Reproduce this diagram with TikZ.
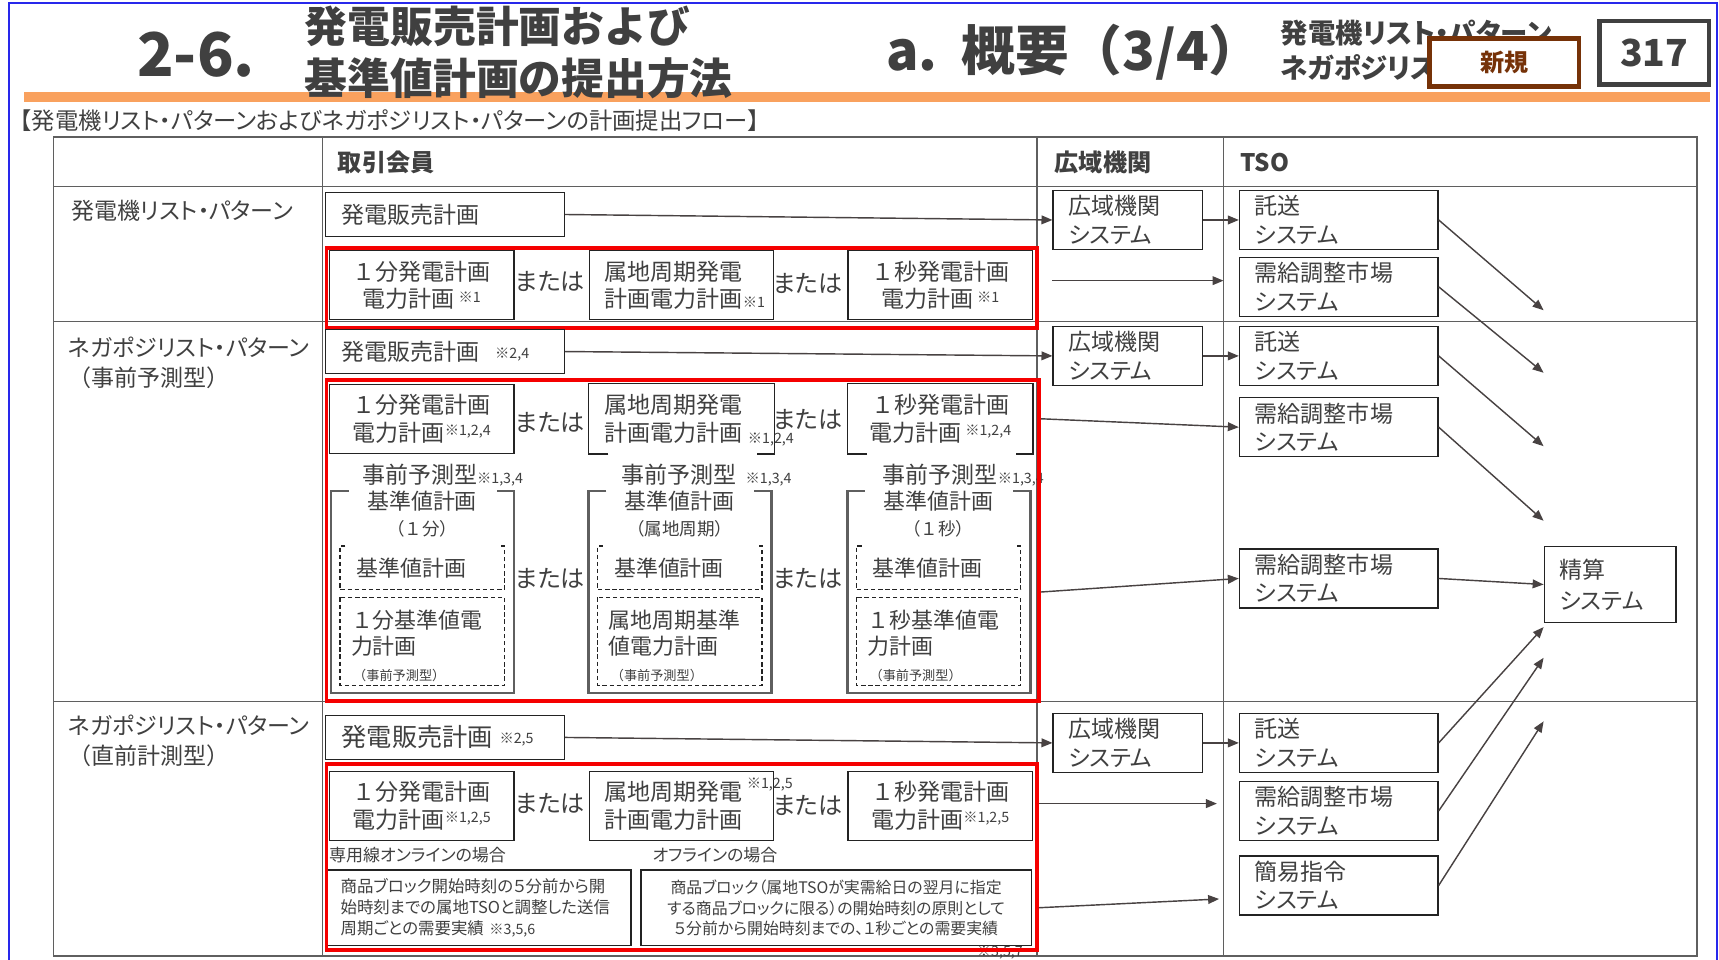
\documentclass[tikz,border=0pt]{standalone}
\usepackage{fontspec}
\setmainfont{Noto Sans CJK JP}[RawFeature=+palt]
\newfontfamily\fw{Noto Sans CJK JP}
\usetikzlibrary{arrows.meta}

\definecolor{txt}{RGB}{64,64,64}
\definecolor{boxline}{RGB}{35,35,35}
\definecolor{grid}{RGB}{95,95,95}
\definecolor{arrowc}{RGB}{72,66,66}
\definecolor{barorange}{RGB}{249,161,94}
\definecolor{frameblue}{RGB}{40,40,235}
\definecolor{newbrown}{RGB}{118,50,8}
\definecolor{redline}{RGB}{245,0,0}
\newcommand{\fsz}[2]{\fontsize{#1}{#2}\selectfont}
\newcommand{\fnote}[1]{{\fsz{13}{13}#1}}
\newcommand{\upnote}[1]{\raisebox{5pt}{\fsz{13}{13}#1}}

\tikzset{
  sys/.style={draw=boxline, line width=1.3pt, anchor=north west, align=left,
    inner xsep=14pt, inner ysep=0pt, text width=108pt, minimum height=54pt,
    text=txt, font=\fsz{21}{26}},
  sale/.style={draw=boxline, line width=1.3pt, anchor=north west, align=left,
    inner xsep=15pt, inner ysep=0pt, text width=188pt, minimum height=40pt,
    text=txt, font=\fsz{21}{26}},
  plan/.style={draw=boxline, line width=1.3pt, anchor=north west, align=center,
    inner xsep=4pt, inner ysep=0pt, text width=160pt, minimum height=63pt,
    text=txt, font=\fw\fsz{21}{25}},
  planl/.style={plan, align=left, inner xsep=14pt, text width=140pt},
  boxpen/.style={draw=boxline, line width=1.3pt},
  orword/.style={text=txt, font=\fsz{22}{22}, inner sep=0pt},
  smalltext/.style={anchor=west, text=txt, font=\fsz{21}{21}, inner sep=0pt},
  rowtext/.style={anchor=west, align=left, text=txt, font=\fsz{21}{27}, inner sep=0pt},
  headtext/.style={anchor=west, text=txt, font=\bfseries\fsz{22}{22}, inner sep=0pt},
  redframe/.style={draw=redline, line width=3.6pt, anchor=north west, inner sep=0pt},
  bracketpen/.style={draw=grid, line width=2.4pt},
  dashpen/.style={draw=boxline, line width=1.2pt, dash pattern=on 4pt off 2.5pt},
  gridpen/.style={draw=grid, line width=1.3pt},
  arr/.style={draw=arrowc, line width=1.3pt, -{Triangle[length=10pt,width=8pt]}},
}

\begin{document}
\begin{tikzpicture}[x=1pt, y=-1pt]
\useasboundingbox (0,0) rectangle (1568,875);
\fill[white] (0,0) rectangle (1568,875);
\draw[frameblue, line width=1.5pt] (8,3) rectangle (1566,890);

% title
\fill[barorange] (22,84) rectangle (1560,93);
\node[anchor=west, text=txt, font=\bfseries\fsz{55}{55}, inner sep=0pt] (num) at (125,50) {2-6.};
\node[anchor=west, text=txt, font=\fw\bfseries\fsz{39}{48}, align=left, inner sep=0pt] (ttl) at (278,48) {発電販売計画および\\基準値計画の提出方法};
\node[anchor=west, text=txt, font=\fw\bfseries\fsz{49}{49}, inner sep=0pt] (part) at (808,48) {a.\hspace{22pt}概要（3/4）};
\node[anchor=west, text=txt, font=\bfseries\fsz{25}{32}, align=left, inner sep=0pt] (kind) at (1168,46) {発電機リスト・パターン\\ネガポジリスト・パターン};
\node[draw=newbrown, line width=4pt, fill=white, minimum width=136pt, minimum height=44pt, text=newbrown, font=\bfseries\fsz{22}{22}] (new) at (1372,57) {新規};
\node[draw=txt, line width=4pt, minimum width=100pt, minimum height=58pt, text=txt, font=\bfseries\fsz{34}{34}] (page) at (1509,48) {317};
\node[anchor=west, text=txt, font=\fsz{21.3}{21.3}, inner sep=0pt] (flow) at (18,110) {【発電機リスト・パターンおよびネガポジリスト・パターンの計画提出フロー】};

% table
\draw[gridpen] (49,125) rectangle (1548,872);
\draw[gridpen] (49,170) -- (1548,170) (49,293) -- (1548,293) (49,640) -- (1548,640);
\draw[gridpen] (294,125) -- (294,872) (946,125) -- (946,872) (1116,125) -- (1116,872);
\node[headtext] (hmember) at (308,148) {取引会員};
\node[headtext] (hocc) at (962,148) {広域機関};
\node[headtext] (htso) at (1131,148) {TSO};
\node[rowtext] (lab1) at (65,192) {発電機リスト・パターン};
\node[rowtext] (lab2) at (62,331) {ネガポジリスト・パターン\\{\fw （事前予測型）}};
\node[rowtext] (lab3) at (62,676) {ネガポジリスト・パターン\\{\fw （直前計測型）}};

% row 1
\node[sale] (sale1) at (296,175) {発電販売計画};
\node[plan] (p1a) at (300,228) {１分発電計画\\電力計画\,\upnote{※1}};
\node[orword] (or1a) at (502,257) {または};
\node[planl] (p1b) at (537,228) {属地周期発電\\計画電力計画\fnote{※1}};
\node[orword] (or1b) at (737,259) {または};
\node[plan] (p1c) at (773,228) {１秒発電計画\\電力計画\,\upnote{※1}};
\node[redframe, minimum width=648pt, minimum height=73pt] (red1) at (296,224) {};
\node[sys] (occ1) at (960,173) {広域機関\\システム};
\node[sys, text width=153pt] (tso1) at (1130,173) {託送\\システム};
\node[sys, text width=153pt] (mkt1) at (1130,234) {需給調整市場\\システム};
\coordinate (f1a) at (960,256);
\coordinate (f1b) at (1116,256);
\coordinate (end1) at (1408,283);
\coordinate (end2) at (1408,340);
\draw[arr] (sale1.east) -- (occ1.west);
\draw[arr] (occ1.east) -- (occ1.east -| tso1.west);
\draw[arr] (f1a) -- (f1b);
\draw[arr] (tso1.east) -- (end1);
\draw[arr] (mkt1.east) -- (end2);

% row 2
\node[sale] (sale2) at (296,300) {発電販売計画\hspace{14pt}\raisebox{2pt}{\fnote{※2,4}}};
\node[plan] (p2a) at (300,350) {１分発電計画\\電力計画\upnote{※1,2,4}};
\node[orword] (or2a) at (502,385) {または};
\node[planl, draw=none] (p2b) at (537,350) {属地周期発電\\計画電力計画};
\draw[boxpen] (p2b.south west) ++(18,0) -- (p2b.south west) -- (p2b.north west) -- (p2b.north east) -- (p2b.south east) -- ++(-16,0);
\node[anchor=west, text=txt, inner sep=0pt] (n2b) at (682,401) {\fnote{※1,2,4}};
\node[orword] (or2b) at (737,383) {または};
\node[plan, draw=none] (p2c) at (773,350) {１秒発電計画\\電力計画\,\upnote{※1,2,4}};
\draw[boxpen] (p2c.south west) ++(18,0) -- (p2c.south west) -- (p2c.north west) -- (p2c.north east) -- (p2c.south east) -- ++(-16,0);
\node[smalltext] (preA) at (330,433) {事前予測型\fnote{※1,3,4}};
\node[smalltext] (preB) at (567,433) {事前予測型\hspace{8pt}\fnote{※1,3,4}};
\node[smalltext] (preC) at (805,433) {事前予測型\fnote{※1,3,4}};
\foreach \gx/\gn/\gunit/\glast in {302/A/（１分）/{１分基準値電\\力計画}, 537/B/（属地周期）/{属地周期基準\\値電力計画}, 773/C/（１秒）/{１秒基準値電\\力計画}} {
  \draw[bracketpen] (\gx+16,448) -- (\gx,448) -- (\gx,632) -- (\gx+167,632) -- (\gx+167,448) -- (\gx+151,448);
  \node[text=txt, font=\fsz{20}{24}, align=center, inner sep=0pt] (base\gn) at (\gx+83,469) {基準値計画\\{\fw\fsz{16}{16}\gunit}};
  \draw[dashpen] (\gx+13,498) -- (\gx+8,498) -- (\gx+8,538) -- (\gx+158,538) -- (\gx+158,498) -- (\gx+153,498);
  \node[anchor=west, text=txt, font=\fsz{20}{20}, inner sep=0pt] (plain\gn) at (\gx+23,518) {基準値計画};
  \draw[dashpen] (\gx+8,545) rectangle (\gx+158,625);
  \node[anchor=north west, text=txt, font=\fw\fsz{20}{24}, align=left, inner sep=0pt] (kwh\gn) at (\gx+18,556) {\glast\\\hspace*{2pt}{\fsz{12}{14}（事前予測型）}};
}
\node[orword] (or2c) at (502,528) {または};
\node[orword] (or2d) at (737,528) {または};
\node[redframe, minimum width=650pt, minimum height=293pt] (red2) at (296,345) {};
\node[sys] (occ2) at (960,297) {広域機関\\システム};
\node[sys, text width=153pt] (tso2) at (1130,297) {託送\\システム};
\node[sys, text width=153pt] (mkt2) at (1130,362) {需給調整市場\\システム};
\node[sys, text width=153pt] (mkt3) at (1130,500) {需給調整市場\\システム};
\node[sys, text width=92pt, minimum height=69pt, font=\fsz{21}{28}] (calc) at (1408,498) {精算\\システム};
\coordinate (end3) at (1408,407);
\coordinate (end4) at (1408,475);
\draw[arr] (sale2.east) -- (occ2.west);
\draw[arr] (occ2.east) -- (occ2.east -| tso2.west);
\draw[arr] (red2.north east) ++(0,37) -- (mkt2.west);
\draw[arr] (red2.north east) ++(0,195) -- (mkt3.west);
\draw[arr] (mkt3.east) -- (calc.west);
\draw[arr] (tso2.east) -- (end3);
\draw[arr] (mkt2.east) -- (end4);

% row 3
\node[sale, font=\fsz{23}{26}] (sale3) at (296,652) {発電販売計画\hspace{6pt}\raisebox{3pt}{\fnote{※2,5}}};
\node[plan] (p3a) at (300,703) {１分発電計画\\電力計画\upnote{※1,2,5}};
\node[orword] (or3a) at (502,733) {または};
\node[planl] (p3b) at (537,703) {属地周期発電\\計画電力計画};
\node[anchor=west, text=txt, inner sep=0pt] (n3b) at (681,716) {\fnote{※1,2,5}};
\node[orword] (or3b) at (737,735) {または};
\node[plan] (p3c) at (773,703) {１秒発電計画\\電力計画\upnote{※1,2,5}};
\node[anchor=west, text=txt, font=\fsz{15.5}{15.5}, inner sep=0pt] (online) at (300,780) {専用線オンラインの場合};
\node[anchor=west, text=txt, font=\fsz{15.5}{15.5}, inner sep=0pt] (offline) at (595,780) {オフラインの場合};
\node[boxpen, anchor=north west, align=left, inner xsep=12pt, inner ysep=0pt, text width=253pt, minimum height=69pt, text=txt, font=\fsz{15}{19}] (o1) at (298,793) {商品ブロック開始時刻の５分前から開\\始時刻までの属地TSOと調整した送信\\周期ごとの需要実績 \fnote{※3,5,6}};
\node[boxpen, anchor=north west, align=center, inner xsep=8pt, inner ysep=0pt, text width=340pt, minimum height=69pt, text=txt, font=\fsz{14.5}{19}] (o2) at (584,793) {商品ブロック（属地TSOが実需給日の翌月に指定\\する商品ブロックに限る）の開始時刻の原則として\\５分前から開始時刻までの、１秒ごとの需要実績};
\node[text=txt, inner sep=0pt] (n3o) at (912,869) {\fnote{※3,5,7}};
\node[redframe, minimum width=648pt, minimum height=170pt] (red3) at (296,695) {};
\node[sys] (occ3) at (960,650) {広域機関\\システム};
\node[sys, text width=153pt] (tso3) at (1130,650) {託送\\システム};
\node[sys, text width=153pt] (mkt4) at (1130,712) {需給調整市場\\システム};
\node[sys, text width=153pt] (cmd) at (1130,780) {簡易指令\\システム};
\coordinate (f3a) at (1110,733);
\coordinate (f3b) at (1112,820);
\coordinate (end5) at (1408,572);
\coordinate (end6) at (1408,600);
\coordinate (end7) at (1408,658);
\draw[arr] (sale3.east) -- (occ3.west);
\draw[arr] (occ3.east) -- (occ3.east -| tso3.west);
\draw[arr] (red3.north east) ++(0,38) -- (f3a);
\draw[arr] (red3.north east) ++(0,133) -- (f3b);
\draw[arr] (tso3.east) -- (end5);
\draw[arr] (mkt4.east) -- (end6);
\draw[arr] (cmd.east) -- (end7);
\end{tikzpicture}
\end{document}
